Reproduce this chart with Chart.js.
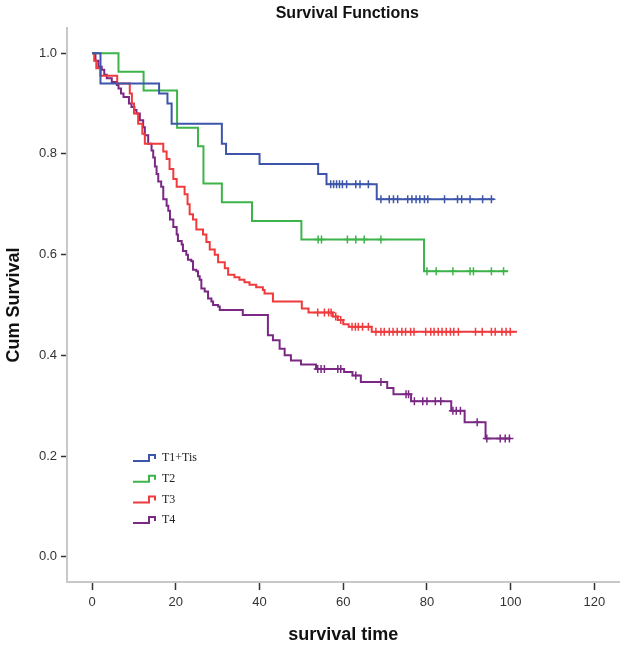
<!DOCTYPE html>
<html><head><meta charset="utf-8">
<script src="https://cdn.jsdelivr.net/npm/chart.js@4/dist/chart.umd.min.js"></script>
<style>html,body{margin:0;padding:0;background:#fff;}</style>
</head><body>
<canvas id="c" width="625" height="646"></canvas>
<script>
const chartTitle = 'Survival Functions';
const xTitle = 'survival time';
const yTitle = 'Cum Survival';
const seriesNames = ['T1+Tis', 'T2', 'T3', 'T4'];
const xTicks = [0, 20, 40, 60, 80, 100, 120];
const yTicks = [0.0, 0.2, 0.4, 0.6, 0.8, 1.0];

// T1+Tis
const t1Times = [0, 2, 16, 18, 19, 31, 32, 40, 54, 56, 68, 96];
const t1Surv  = [1.0, 0.94, 0.92, 0.90, 0.86, 0.82, 0.80, 0.78, 0.76, 0.74, 0.71, 0.71];
const t1Censor = [57, 57.7, 58.4, 59.1, 59.8, 60.8, 63, 64, 66, 69, 71, 72, 73, 75.4, 76.4, 77.4, 78.3, 79.4, 80.2, 84.2, 87.3, 88.3, 90.3, 93.3, 95.4];

// T2
const t2Times = [0, 6.3, 12.3, 20.3, 25.3, 26.6, 31, 38.2, 50, 79.3, 99.4];
const t2Surv  = [1.0, 0.963, 0.926, 0.852, 0.815, 0.741, 0.704, 0.667, 0.630, 0.567, 0.567];
const t2Censor = [54, 54.8, 61, 63, 65, 69, 80, 82.2, 86.2, 90.3, 91.1, 95.4, 98.3];

// T3
const t3Times = [0, 0.5, 1, 2, 6, 9, 9.5, 10, 11, 12, 12.6, 17, 17.8, 18.5, 19.4, 20.2, 22.1, 22.8, 23.3, 24.1, 24.9, 26.5, 27.3, 28.1, 29.3, 30.1, 31.7, 32.5, 34, 35.2, 36.4, 37.6, 39.2, 40.8, 41.2, 43.2, 50.1, 51.7, 57.5, 58.7, 60, 61.3, 66.8, 101.5];
const t3Surv  = [1.0, 0.985, 0.97, 0.955, 0.94, 0.92, 0.90, 0.88, 0.86, 0.84, 0.82, 0.805, 0.79, 0.77, 0.75, 0.735, 0.72, 0.70, 0.68, 0.67, 0.65, 0.64, 0.625, 0.61, 0.60, 0.585, 0.573, 0.56, 0.555, 0.55, 0.545, 0.54, 0.535, 0.53, 0.523, 0.507, 0.493, 0.485, 0.477, 0.47, 0.462, 0.457, 0.447, 0.447];
const t3Censor = [53.9, 55.5, 56.5, 57.1, 58.2, 59.4, 62.1, 62.9, 63.6, 64.6, 66, 67.8, 69, 69.8, 71, 71.9, 72.9, 74, 74.9, 76.1, 76.9, 79.7, 80.9, 81.7, 82.7, 83.6, 84.6, 85.6, 86.4, 87.5, 91.6, 93.2, 95.4, 96.3, 97.9, 98.9, 99.9];

// T4
const t4Times = [0, 0.8, 1.5, 2.3, 2.9, 3.5, 4.7, 5.9, 6.3, 6.9, 7.5, 8.8, 9.4, 10.1, 10.6, 11.4, 12.2, 12.6, 13.4, 14.2, 14.6, 15, 15.4, 15.8, 16.5, 17, 17.8, 18.2, 18.6, 19.4, 20.2, 20.5, 21.4, 21.7, 22.5, 22.9, 23.7, 24.1, 24.9, 25.3, 25.7, 26.1, 26.9, 27.7, 28.5, 28.9, 30.1, 30.5, 36, 42, 43.2, 44.8, 46, 47.5, 49.9, 53.5, 60.2, 62.2, 64.2, 70.5, 72, 76.2, 85.8, 89, 94, 100];
const t4Surv  = [1.0, 0.985, 0.973, 0.967, 0.957, 0.95, 0.943, 0.937, 0.93, 0.92, 0.913, 0.90, 0.893, 0.887, 0.88, 0.867, 0.853, 0.837, 0.82, 0.807, 0.793, 0.775, 0.76, 0.745, 0.735, 0.71, 0.697, 0.687, 0.67, 0.655, 0.64, 0.627, 0.62, 0.607, 0.60, 0.59, 0.587, 0.57, 0.567, 0.557, 0.55, 0.533, 0.527, 0.513, 0.507, 0.50, 0.497, 0.49, 0.48, 0.44, 0.43, 0.413, 0.40, 0.39, 0.382, 0.373, 0.367, 0.36, 0.347, 0.335, 0.323, 0.309, 0.29, 0.267, 0.235, 0.235];
const t4Censor = [53.9, 54.7, 55.5, 58.7, 59.4, 63, 69, 75, 75.6, 77, 79, 80, 82, 83.3, 86.2, 87, 88, 92, 94.3, 97.5, 98.7, 99.7];

const seriesColors = ['#3d55ab', '#3cb449', '#ef3b3d', '#7a2884'];

const series = [
  {times: t1Times, surv: t1Surv, censor: t1Censor},
  {times: t2Times, surv: t2Surv, censor: t2Censor},
  {times: t3Times, surv: t3Surv, censor: t3Censor},
  {times: t4Times, surv: t4Surv, censor: t4Censor}
];

function survAt(s, t) {
  let v = s.surv[0];
  for (let i = 0; i < s.times.length; i++) { if (s.times[i] <= t) v = s.surv[i]; }
  return v;
}

const datasets = [];
series.forEach((s, i) => {
  datasets.push({
    label: seriesNames[i],
    data: s.times.map((t, k) => ({x: t, y: s.surv[k]})),
    stepped: 'before', borderColor: seriesColors[i], borderWidth: 2,
    pointRadius: 0, fill: false, tension: 0
  });
  datasets.push({
    label: seriesNames[i] + ' censored',
    data: s.censor.map(t => ({x: t, y: survAt(s, t)})),
    showLine: false, pointStyle: 'cross', pointRadius: 4,
    pointBorderWidth: 1.5, borderColor: seriesColors[i], backgroundColor: seriesColors[i]
  });
});

const titlePlugin = {
  id: 'kmTitle',
  afterDraw(chart) {
    const {ctx, chartArea: a} = chart;
    ctx.save();
    ctx.font = 'bold 16px "Liberation Sans", Arial, sans-serif';
    ctx.fillStyle = '#111';
    ctx.textAlign = 'center';
    ctx.textBaseline = 'middle';
    ctx.fillText(chartTitle, (a.left + a.right) / 2 + 4, 14);
    ctx.restore();
  }
};

const legendPlugin = {
  id: 'kmLegend',
  afterDatasetsDraw(chart) {
    const {ctx, chartArea: a} = chart;
    const x0 = a.left + 66, y0 = a.bottom - 125, gap = 20.7;
    ctx.save();
    ctx.lineWidth = 2;
    ctx.font = '12px "Liberation Serif", "DejaVu Serif", serif';
    ctx.textBaseline = 'middle';
    ctx.textAlign = 'left';
    seriesNames.forEach((name, i) => {
      const y = y0 + i * gap;
      ctx.strokeStyle = seriesColors[i];
      ctx.beginPath();
      ctx.moveTo(x0, y + 4);
      ctx.lineTo(x0 + 16, y + 4);
      ctx.lineTo(x0 + 16, y - 2);
      ctx.lineTo(x0 + 22, y - 2);
      ctx.lineTo(x0 + 22, y + 2);
      ctx.stroke();
      ctx.fillStyle = '#222';
      ctx.fillText(name, x0 + 29, y + 1);
    });
    ctx.restore();
  }
};

new Chart(document.getElementById('c'), {
  type: 'line',
  data: {datasets},
  plugins: [titlePlugin, legendPlugin],
  options: {
    responsive: false,
    animation: false,
    devicePixelRatio: 1,
    layout: {padding: {top: 28, right: 4, left: 0, bottom: 0}},
    plugins: {legend: {display: false}, title: {display: false}, tooltip: {enabled: false}},
    scales: {
      x: {
        type: 'linear', min: -6, max: 126,
        afterBuildTicks: s => { s.ticks = xTicks.map(v => ({value: v})); },
        afterFit: s => { s.height = 64; },
        grid: {drawOnChartArea: false, drawTicks: true, tickLength: 8, tickColor: '#333', tickWidth: 1.5},
        border: {display: true, color: '#c8c8c8', width: 2},
        ticks: {font: {family: '"Liberation Sans", Arial, sans-serif', size: 13}, color: '#333', padding: 5, maxRotation: 0, autoSkip: false, callback: v => String(v)},
        title: {display: true, text: xTitle, font: {family: '"Liberation Sans", Arial, sans-serif', size: 18, weight: 'bold'}, color: '#111', padding: {top: 0, bottom: 0}}
      },
      y: {
        type: 'linear', min: -0.05, max: 1.05,
        afterBuildTicks: s => { s.ticks = yTicks.map(v => ({value: v})); },
        afterFit: s => { s.width = 67; },
        grid: {drawOnChartArea: false, drawTicks: true, tickLength: 6, tickColor: '#333', tickWidth: 1.5},
        border: {display: true, color: '#c8c8c8', width: 2},
        ticks: {font: {family: '"Liberation Sans", Arial, sans-serif', size: 13}, color: '#333', padding: 4, autoSkip: false, callback: v => Number(v).toFixed(1)},
        title: {display: true, text: yTitle, font: {family: '"Liberation Sans", Arial, sans-serif', size: 18, weight: 'bold'}, color: '#111', padding: {top: 3, bottom: 0}}
      }
    }
  }
});
</script>
</body></html>
